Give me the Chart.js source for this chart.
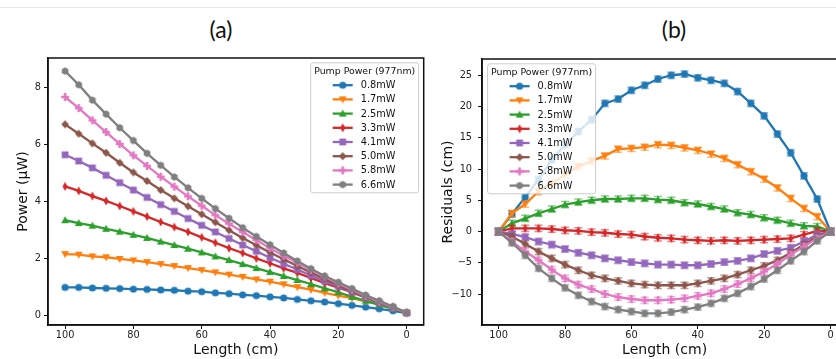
<!DOCTYPE html>
<html>
<head>
<meta charset="utf-8">
<script src="https://cdn.jsdelivr.net/npm/chart.js@4.4.0/dist/chart.umd.min.js"></script>
<style>
html, body { margin: 0; padding: 0; background: #fff; overflow: hidden; }
body { width: 836px; height: 359px; position: relative; }
#rule { position: absolute; left: 0; top: 7px; width: 836px; height: 1px; background: #e8e8e8; }
.ptitle { position: absolute; top: 17px; line-height: 24px; font-family: Lato, "Open Sans", sans-serif; font-size: 23px; color: #111; transform: translateX(-50%); }
.wrap { position: absolute; top: 0; }
#wa { left: 0; }
#wb { left: 430px; }
</style>
</head>
<body>
<div id="rule"></div>
<div class="ptitle" style="left:221px">(a)</div>
<div class="ptitle" style="left:674px">(b)</div>
<div class="wrap" id="wa"><canvas id="chartA" width="430" height="359"></canvas></div>
<div class="wrap" id="wb"><canvas id="chartB" width="430" height="359"></canvas></div>
<script>
// fibre position along the sample (cm), same for every series
const lengthCm = [100, 96, 92, 88, 84, 80, 76, 72, 68, 64, 60, 56, 52, 48, 44, 40, 36, 32, 28, 24, 20, 16, 12, 8, 4, 0];
const pumpLabels = ['0.8mW', '1.7mW', '2.5mW', '3.3mW', '4.1mW', '5.0mW', '5.8mW', '6.6mW'];
const legendTitle = 'Pump Power (977nm)';

// (a) power (uW)
const pow08 = [0.97, 0.97, 0.95, 0.94, 0.93, 0.91, 0.90, 0.88, 0.87, 0.84, 0.82, 0.78, 0.75, 0.71, 0.68, 0.64, 0.60, 0.55, 0.50, 0.46, 0.40, 0.34, 0.28, 0.22, 0.15, 0.07];
const pow17 = [2.14, 2.12, 2.06, 2.03, 1.97, 1.92, 1.86, 1.79, 1.72, 1.65, 1.58, 1.50, 1.42, 1.34, 1.25, 1.17, 1.08, 0.98, 0.89, 0.78, 0.68, 0.59, 0.48, 0.38, 0.26, 0.09];
const pow25 = [3.33, 3.23, 3.14, 3.03, 2.93, 2.82, 2.71, 2.58, 2.46, 2.33, 2.20, 2.06, 1.93, 1.79, 1.65, 1.51, 1.37, 1.23, 1.09, 0.94, 0.80, 0.64, 0.50, 0.36, 0.22, 0.07];
const pow33 = [4.52, 4.36, 4.18, 4.01, 3.83, 3.64, 3.46, 3.27, 3.09, 2.92, 2.73, 2.54, 2.35, 2.18, 1.99, 1.82, 1.64, 1.48, 1.30, 1.12, 0.96, 0.80, 0.62, 0.46, 0.28, 0.09];
const pow41 = [5.63, 5.41, 5.17, 4.91, 4.65, 4.39, 4.13, 3.88, 3.64, 3.39, 3.15, 2.92, 2.69, 2.46, 2.24, 2.01, 1.80, 1.60, 1.39, 1.19, 1.00, 0.80, 0.61, 0.42, 0.25, 0.07];
const pow50 = [6.70, 6.37, 6.03, 5.70, 5.35, 5.01, 4.71, 4.39, 4.10, 3.82, 3.54, 3.26, 2.98, 2.71, 2.45, 2.20, 1.96, 1.72, 1.49, 1.27, 1.04, 0.83, 0.63, 0.43, 0.26, 0.07];
const pow58 = [7.66, 7.27, 6.84, 6.43, 6.01, 5.61, 5.24, 4.86, 4.51, 4.17, 3.84, 3.51, 3.21, 2.92, 2.64, 2.35, 2.08, 1.84, 1.58, 1.35, 1.11, 0.89, 0.67, 0.47, 0.28, 0.08];
const pow66 = [8.57, 8.09, 7.55, 7.06, 6.58, 6.13, 5.68, 5.26, 4.85, 4.47, 4.10, 3.74, 3.40, 3.07, 2.76, 2.47, 2.18, 1.90, 1.63, 1.37, 1.15, 0.93, 0.70, 0.50, 0.30, 0.09];

// (b) residuals (cm)
const res08 = [0, 2.8, 5.5, 8.3, 11.5, 13.9, 16.0, 17.9, 20.5, 21.2, 22.6, 23.4, 24.4, 25.0, 25.2, 24.6, 24.2, 23.7, 22.4, 20.5, 18.5, 15.6, 12.6, 8.9, 5.2, 0];
const res17 = [0, 2.9, 4.4, 6.4, 7.7, 9.1, 10.4, 11.3, 12.1, 13.2, 13.3, 13.5, 13.9, 13.8, 13.4, 13.0, 12.4, 11.7, 10.7, 9.6, 8.4, 7.0, 5.3, 3.7, 2.4, 0];
const res25 = [0, 1.3, 2.1, 2.9, 3.6, 4.3, 4.7, 5.0, 5.2, 5.2, 5.3, 5.3, 5.1, 5.0, 4.6, 4.4, 4.0, 3.6, 3.0, 2.7, 2.2, 1.8, 1.3, 0.9, 0.8, 0];
const res33 = [0, 0.5, 0.5, 0.5, 0.4, 0.2, 0.1, -0.1, -0.2, -0.4, -0.5, -0.8, -1.0, -1.1, -1.3, -1.4, -1.5, -1.4, -1.5, -1.4, -1.3, -1.2, -1.1, -0.5, 0.1, 0];
const res41 = [0, -0.4, -0.9, -1.6, -2.1, -2.8, -3.4, -3.8, -4.3, -4.6, -4.9, -5.1, -5.3, -5.3, -5.4, -5.4, -5.2, -4.9, -4.7, -4.3, -3.6, -3.1, -2.6, -1.6, -0.5, 0];
const res50 = [0, -0.8, -2.0, -3.2, -4.3, -5.3, -6.2, -7.0, -7.5, -7.9, -8.3, -8.5, -8.6, -8.6, -8.6, -8.3, -7.9, -7.5, -6.9, -6.2, -5.5, -4.6, -3.4, -2.1, -0.8, 0];
const res58 = [0, -1.6, -3.2, -4.6, -6.1, -7.5, -8.5, -9.2, -10.0, -10.5, -10.8, -11.0, -11.0, -10.9, -10.7, -10.3, -9.9, -9.2, -8.4, -7.5, -6.4, -5.2, -3.7, -2.4, -1.1, 0];
const res66 = [0, -1.8, -3.8, -5.9, -7.5, -9.0, -10.2, -11.2, -12.0, -12.5, -12.8, -13.1, -13.1, -12.9, -12.5, -12.1, -11.5, -10.7, -9.9, -8.8, -7.6, -6.2, -4.7, -3.2, -1.5, 0];
const residualErr = 0.5; // +/- cm on every residual point

const xTicks = [100, 80, 60, 40, 20, 0];
const yTicksA = [0, 2, 4, 6, 8];
const yTicksB = [-10, -5, 0, 5, 10, 15, 20, 25];

const colors = ['#1f77b4', '#ff7f0e', '#2ca02c', '#d62728', '#9467bd', '#8c564b', '#e377c2', '#7f7f7f'];
const markers = ['o', 'v', '^', 'd', 's', 'D', 'P', 'h'];
const FONT = 'DejaVu Sans';

function makeMarker(shape, color) {
    const c = document.createElement('canvas');
    c.width = 14; c.height = 14;
    const g = c.getContext('2d');
    const r = 3.9;
    g.translate(7, 7);
    g.fillStyle = color;
    g.beginPath();
    if (shape === 'o') {
        g.arc(0, 0, 3.6, 0, Math.PI * 2);
    } else if (shape === 'v') {
        g.moveTo(0, r); g.lineTo(-r, -r * 0.8); g.lineTo(r, -r * 0.8);
    } else if (shape === '^') {
        g.moveTo(0, -r); g.lineTo(-r, r * 0.8); g.lineTo(r, r * 0.8);
    } else if (shape === 'd') {
        g.moveTo(0, -r * 1.15); g.lineTo(r * 0.65, 0); g.lineTo(0, r * 1.15); g.lineTo(-r * 0.65, 0);
    } else if (shape === 's') {
        g.rect(-3.4, -3.4, 6.8, 6.8);
    } else if (shape === 'D') {
        g.moveTo(0, -r); g.lineTo(r, 0); g.lineTo(0, r); g.lineTo(-r, 0);
    } else if (shape === 'P') {
        const t = 1.3;
        g.moveTo(-t, -r); g.lineTo(t, -r); g.lineTo(t, -t); g.lineTo(r, -t); g.lineTo(r, t); g.lineTo(t, t);
        g.lineTo(t, r); g.lineTo(-t, r); g.lineTo(-t, t); g.lineTo(-r, t); g.lineTo(-r, -t); g.lineTo(-t, -t);
    } else {
        for (let k = 0; k < 6; k++) {
            const a = Math.PI / 6 + k * Math.PI / 3;
            g.lineTo(3.8 * Math.cos(a), 3.8 * Math.sin(a));
        }
    }
    g.closePath();
    g.fill();
    return c;
}
const markerImgs = colors.map((c, i) => makeMarker(markers[i], c));

function withAlpha(hex, a) {
    const n = parseInt(hex.slice(1), 16);
    return `rgba(${n >> 16},${(n >> 8) & 255},${n & 255},${a})`;
}

// matplotlib-style frame + legend
const mplDecor = {
    id: 'mplDecor',
    beforeDatasetDraw(chart, args, opts) {
        if (!opts.err) return;
        const ctx = chart.ctx, ys = chart.scales.y, ca = chart.chartArea;
        const meta = chart.getDatasetMeta(args.index);
        const ds = chart.data.datasets[args.index];
        ctx.save();
        ctx.beginPath();
        ctx.rect(ca.left, ca.top, ca.right - ca.left, ca.bottom - ca.top);
        ctx.clip();
        ctx.strokeStyle = withAlpha(ds.borderColor, 0.55);
        ctx.lineWidth = 1.5;
        meta.data.forEach((pt, i) => {
            const v = ds.data[i].y;
            const y1 = ys.getPixelForValue(v + opts.err);
            const y2 = ys.getPixelForValue(v - opts.err);
            ctx.beginPath();
            ctx.moveTo(pt.x, y1); ctx.lineTo(pt.x, y2);
            ctx.moveTo(pt.x - 4, y1); ctx.lineTo(pt.x + 4, y1);
            ctx.moveTo(pt.x - 4, y2); ctx.lineTo(pt.x + 4, y2);
            ctx.stroke();
        });
        ctx.restore();
    },
    afterDraw(chart, args, opts) {
        const ctx = chart.ctx, ca = chart.chartArea;
        ctx.save();
        ctx.strokeStyle = '#111';
        ctx.lineWidth = 1.5;
        ctx.strokeRect(ca.left, ca.top, ca.right - ca.left, ca.bottom - ca.top);

        const w = 108, h = 130;
        const x0 = opts.side === 'right' ? ca.right - 5 - w : ca.left + 5.5;
        const y0 = ca.top + 4.8;
        ctx.beginPath();
        ctx.roundRect(x0, y0, w, h, 2.5);
        ctx.fillStyle = 'rgba(255,255,255,0.8)';
        ctx.fill();
        ctx.strokeStyle = '#cccccc';
        ctx.lineWidth = 1;
        ctx.stroke();

        ctx.fillStyle = '#111';
        ctx.font = `9.4px "${FONT}"`;
        ctx.textBaseline = 'middle';
        ctx.textAlign = 'center';
        ctx.fillText(legendTitle, x0 + w / 2, y0 + 8.6);
        ctx.textAlign = 'left';
        ctx.font = `9.8px "${FONT}"`;
        chart.data.datasets.forEach((ds, i) => {
            const y = y0 + 22.4 + i * 14.2;
            ctx.strokeStyle = ds.borderColor;
            ctx.lineWidth = 2.3;
            ctx.beginPath();
            ctx.moveTo(x0 + 22, y); ctx.lineTo(x0 + 42, y);
            ctx.stroke();
            ctx.drawImage(markerImgs[i], x0 + 32 - 7, y - 7);
            ctx.fillStyle = '#111';
            ctx.fillText(ds.label, x0 + 50, y + 0.5);
        });
        ctx.restore();
    }
};

function makeChart(id, series, cfg) {
    const datasets = series.map((vals, i) => ({
        label: pumpLabels[i],
        data: lengthCm.map((x, k) => ({ x: x, y: vals[k] })),
        borderColor: colors[i],
        backgroundColor: colors[i],
        borderWidth: 2.3,
        pointStyle: markerImgs[i],
        pointRadius: 3.8,
        tension: 0,
        order: series.length - i
    }));
    const tickFont = { family: FONT, size: 9.8 };
    return new Chart(document.getElementById(id), {
        type: 'line',
        data: { datasets: datasets },
        options: {
            responsive: false,
            animation: false,
            events: [],
            layout: { padding: { left: 0, top: cfg.top, right: cfg.right, bottom: 0 } },
            scales: {
                x: {
                    type: 'linear',
                    reverse: true,
                    min: -5, max: 105,
                    afterBuildTicks: s => { s.ticks = xTicks.map(v => ({ value: v })); },
                    afterFit: s => { s.height = 34; },
                    grid: { drawOnChartArea: false, drawTicks: true, tickLength: 4, tickColor: '#111', tickWidth: 1 },
                    border: { display: true, color: '#111', width: 1.5 },
                    ticks: { font: tickFont, color: '#222', padding: 1, maxRotation: 0, autoSkip: false },
                    title: { display: true, text: 'Length (cm)', font: { family: FONT, size: 14 }, color: '#111', padding: 0 }
                },
                y: {
                    type: 'linear',
                    min: cfg.yMin, max: cfg.yMax,
                    afterBuildTicks: s => { s.ticks = cfg.yTicks.map(v => ({ value: v })); },
                    afterFit: s => { s.width = cfg.yWidth; },
                    grid: { drawOnChartArea: false, drawTicks: true, tickLength: 4, tickColor: '#111', tickWidth: 1 },
                    border: { display: true, color: '#111', width: 1.5 },
                    ticks: {
                        font: tickFont, color: '#222', padding: cfg.yPad, autoSkip: false,
                        callback: v => String(v).replace('-', '\u2212')
                    },
                    title: { display: true, text: cfg.yTitle, font: { family: FONT, size: 14 }, color: '#111', padding: { top: cfg.yTitlePad, bottom: 0 } }
                }
            },
            plugins: {
                legend: { display: false },
                tooltip: { enabled: false },
                mplDecor: { side: cfg.legendSide, err: cfg.err }
            }
        },
        plugins: [mplDecor]
    });
}

makeChart('chartA', [pow08, pow17, pow25, pow33, pow41, pow50, pow58, pow66], {
    top: 58, right: 6, yWidth: 48, yPad: 3, yTitlePad: 14.5,
    yMin: -0.35, yMax: 9.03, yTicks: yTicksA,
    yTitle: 'Power (\u03bcW)', legendSide: 'right', err: 0
});

makeChart('chartB', [res08, res17, res25, res33, res41, res50, res58, res66], {
    top: 59, right: 12.9, yWidth: 52.1, yPad: 6, yTitlePad: 9.6,
    yMin: -14.96, yMax: 27.6, yTicks: yTicksB,
    yTitle: 'Residuals (cm)', legendSide: 'left', err: residualErr
});
</script>
</body>
</html>
